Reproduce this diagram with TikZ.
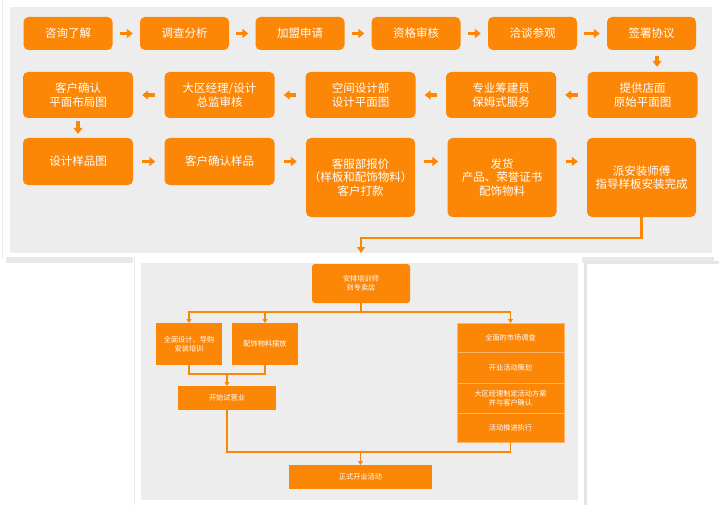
\documentclass[tikz,border=0pt]{standalone}
\usepackage{fontspec}
\newfontfamily\cjk{Noto Sans CJK SC}
\usetikzlibrary{arrows.meta,calc,positioning}
\definecolor{brandorange}{RGB}{252,134,6}
\definecolor{panelgray}{RGB}{237,237,237}
\definecolor{seporange}{RGB}{255,180,105}

\begin{document}
\begin{tikzpicture}[x=1pt, y=-1pt,
  stepbox/.style={fill=brandorange, rounded corners=5pt, text=white, align=center,
    font=\cjk\fontsize{11.5}{13.5}\selectfont, inner sep=0pt},
  smallbox/.style={fill=brandorange, text=white, align=center, outer sep=0pt,
    font=\cjk\fontsize{7.2}{9}\selectfont, inner sep=0pt},
  stackbox/.style={smallbox, draw=seporange, line width=0.6pt, minimum width=107pt},
  bigarrow/.style={brandorange, line width=3.5pt, -{Triangle[length=6pt, width=9pt]}},
  link/.style={brandorange, line width=1.5pt},
  linkarrow/.style={link, -{Triangle[length=4pt, width=5pt]}}]
  \useasboundingbox (0,0) rectangle (719,505);
  % Panels
  \fill[white] (0,0) rectangle (719,505);
  \fill[black!9] (6,257) rectangle (714,263);
  \draw[black!8, line width=1pt] (2,1) -- (2,258);
  \fill[panelgray] (10,7) rectangle (712,253);
  \fill[white] (133,257) rectangle (582,505);
  \draw[black!8, line width=1pt] (134,257) -- (134,505);
  \fill[panelgray] (141,263) rectangle (578,500);
  \fill[black!10] (584,261) rectangle (719,505);
  \fill[white] (587,264) rectangle (719,505);

  % First row
  \foreach \n/\x/\t in {a1/68/咨询了解, a2/184.5/调查分析, a3/300/加盟申请,
                        a4/416/资格审核, a5/532.5/洽谈参观, a6/651.5/签署协议} {
    \node[stepbox, minimum width=89pt, minimum height=33pt] (\n) at (\x,33.5) {\t};
  }
  % Second row
  \foreach \n/\x/\t in {b1/78/{客户确认\\平面布局图}, b2/219.5/{大区经理/设计\\总监审核},
                        b3/360.5/{空间设计部\\设计平面图}, b4/501/{专业筹建员\\保姆式服务},
                        b5/642.5/{提供店面\\原始平面图}} {
    \node[stepbox, minimum width=110pt, minimum height=46pt] (\n) at (\x,95) {\t};
  }
  % Third row
  \node[stepbox, minimum width=110pt, minimum height=47pt] (c1) at (78,161.5) {设计样品图};
  \node[stepbox, minimum width=110pt, minimum height=47pt] (c2) at (219.5,161.5) {客户确认样品};
  \foreach \n/\x/\t in {c3/360.5/{客服部报价\\（样板和配饰物料）\\客户打款},
                        c4/502/{发货\\产品、荣誉证书\\配饰物料},
                        c5/641.5/{派安装师傅\\指导样板安装完成}} {
    \node[stepbox, minimum width=109pt, minimum height=79pt] (\n) at (\x,177.5) {\t};
  }

  % Step arrows
  \foreach \i/\j in {a1/a2, a2/a3, a3/a4, a4/a5, a5/a6} {
    \draw[bigarrow, shorten <=7pt, shorten >=7pt] (\i) -- (\j);
  }
  \foreach \i/\j in {b5/b4, b4/b3, b3/b2, b2/b1} {
    \draw[bigarrow, shorten <=9pt, shorten >=9pt] (\i) -- (\j);
  }
  \foreach \i/\j in {c1/c2, c2/c3, c3/c4, c4/c5} {
    \draw[bigarrow, shorten <=9pt, shorten >=9pt] (\i.east |- c1.center) -- (\j.west |- c1.center);
  }
  \draw[bigarrow, shorten <=6pt, shorten >=5pt] ([xshift=5.5pt]a6.south) -- ([xshift=5.5pt]a6.south |- b5.north);
  \draw[bigarrow, shorten <=3pt, shorten >=4pt] (b1) -- (c1);

  % Training part
  \node[smallbox, rounded corners=3pt, minimum width=98pt, minimum height=39pt] (e1) at (361,283.5) {安排培训师\\到专卖店};
  \node[smallbox, minimum width=66pt, minimum height=42pt] (e2) at (189,344) {全面设计、导购\\安装培训};
  \node[smallbox, minimum width=66pt, minimum height=42pt] (e3) at (265,344) {配饰物料摆放};
  \node[stackbox, minimum height=29pt] (f1) at (510.5,337.5) {全面的市场调查};
  \node[stackbox, minimum height=31pt, below=0pt of f1] (f2) {开业活动策划};
  \node[stackbox, minimum height=30pt, below=0pt of f2] (f3) {大区经理制定活动方案\\并与客户确认};
  \node[stackbox, minimum height=29pt, below=0pt of f3] (f4) {活动推进执行};
  \node[smallbox, minimum width=98pt, minimum height=24pt] (g1) at (227,398) {开始试营业};
  \node[smallbox, minimum width=143pt, minimum height=24pt] (h1) at (360.5,477) {正式开业活动};

  % Connectors
  \draw[brandorange, line width=2.5pt, -{Triangle[length=6pt, width=8pt]}, shorten >=11pt]
    (c5.south) -- ++(0,21) -| (e1.north);
  \coordinate (split) at ($(e1.south)+(0,9)$);
  \foreach \n in {e2, e3, f1} {
    \draw[linkarrow] (e1.south) -- (split) -| (\n.north);
  }
  \coordinate (join) at ($(e2.south)!0.5!(e3.south)+(0,9)$);
  \draw[link] (e2.south) |- (join) -| (e3.south);
  \draw[linkarrow] (join) -- (g1.north);
  \coordinate (meet) at ($(h1.north)+(0,-13)$);
  \draw[link] (g1.south) |- (meet) -| (f4.south);
  \draw[linkarrow] (meet) -- (h1.north);
\end{tikzpicture}
\end{document}
